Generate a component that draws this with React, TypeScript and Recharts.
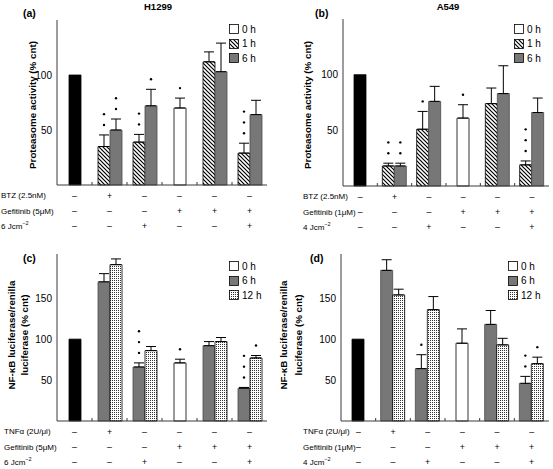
import React from 'react';
import { BarChart, Bar, XAxis, YAxis, ErrorBar, Cell, Legend, LabelList } from 'recharts';

const categories = ['g1', 'g2', 'g3', 'g4', 'g5', 'g6'];

// (a) H1299 proteasome activity
const aSingle = [100, null, null, 70, null, null];
const aSingleErr = [null, null, null, 9, null, null];
const aSingleStars = [0, 0, 0, 1, 0, 0];
const a1h = [null, 35, 39, null, 112, 29];
const a1hErr = [null, 10.5, 7, null, 9, 9];
const a1hStars = [0, 2, 2, 0, 0, 3];
const a6h = [null, 50, 72, null, 103, 64];
const a6hErr = [null, 10, 15, null, 26, 13];
const a6hStars = [0, 2, 1, 0, 0, 0];

// (b) A549 proteasome activity
const bSingle = [100, null, null, 61, null, null];
const bSingleErr = [null, null, null, 12, null, null];
const bSingleStars = [0, 0, 0, 1, 0, 0];
const b1h = [null, 18, 51, null, 74, 19];
const b1hErr = [null, 2.5, 16, null, 14, 3.5];
const b1hStars = [0, 2, 1, 0, 0, 3];
const b6h = [null, 18, 76, null, 83, 66];
const b6hErr = [null, 2.5, 13.5, null, 25, 13];
const b6hStars = [0, 2, 0, 0, 0, 0];

// (c) H1299 NF-kB luciferase
const cSingle = [100, null, null, 71, null, null];
const cSingleErr = [null, null, null, 4.5, null, null];
const cSingleStars = [0, 0, 0, 1, 0, 0];
const c6h = [null, 170, 66, null, 92, 40];
const c6hErr = [null, 10, 5, null, 5, 1];
const c6hStars = [0, 0, 3, 0, 0, 3];
const c12h = [null, 191, 86, null, 97, 77];
const c12hErr = [null, 7, 5, null, 5, 3];
const c12hStars = [0, 0, 0, 0, 0, 1];

// (d) A549 NF-kB luciferase
const dSingle = [100, null, null, 95, null, null];
const dSingleErr = [null, null, null, 17.5, null, null];
const dSingleStars = [0, 0, 0, 0, 0, 0];
const d6h = [null, 184, 64, null, 118, 46];
const d6hErr = [null, 13, 17, null, 17, 8.5];
const d6hStars = [0, 0, 1, 0, 0, 2];
const d12h = [null, 154, 136, null, 93, 70];
const d12hErr = [null, 7, 16, null, 8, 8];
const d12hStars = [0, 0, 0, 0, 0, 1];

// treatment rows under the axes
const btzRow = ['–', '+', '–', '–', '–', '–'];
const tnfRow = ['–', '+', '–', '–', '–', '–'];
const gefRow = ['–', '–', '–', '+', '+', '+'];
const lightRow = ['–', '–', '+', '–', '–', '+'];

const ticksLow = [50, 100];
const ticksHigh = [50, 100, 150];

const GRAY = '#777';
const HATCH = 'url(#hatch)';
const DOTS = 'url(#dots)';
const FRAME = '#3a3a3a';
const ROW_Y = [10.5, 26, 41];
const X_AXIS_H = 48;

type Num = number | null;
type RowLabel = { text: string; sup?: string };

type PanelProps = {
  left: number;
  top: number;
  width: number;
  height: number;
  margin: { top: number; right: number; bottom: number; left: number };
  yAxisWidth: number;
  domain: [number, number];
  ticks: number[];
  single: Num[];
  singleErr: Num[];
  singleStars: number[];
  s1: Num[];
  s1Err: Num[];
  s1Stars: number[];
  s1Fill: string;
  s2: Num[];
  s2Err: Num[];
  s2Stars: number[];
  s2Fill: string;
  legendItems: { label: string; fill: string }[];
  legendPos: { left: number; top: number };
  rows: string[][];
  rowLabels: RowLabel[];
  rowLabelX: number;
  yLabel: string[];
  yLabelX: number[];
  yLabelY: number;
};

const errPair = (e: Num) => (e == null ? null : [0, e]);
const mark = (v: Num, stars: number, e: Num) => (v == null ? null : `${stars}:${e ?? 0}`);

// significance dots stacked above the error bar
const starLabel = (ppu: number) => (props: any) => {
  const vb = props.viewBox || props;
  const value = props.value;
  if (value == null) return null;
  const [starsStr, errStr] = String(value).split(':');
  const stars = Number(starsStr);
  if (!stars) return null;
  const { x, y, width } = vb;
  const top = y - Number(errStr) * ppu;
  return (
    <g>
      {Array.from({ length: stars }, (_, k) => (
        <circle key={k} cx={x + width / 2} cy={top - 10 - k * 10.8} r={1.2} fill="#000" />
      ))}
    </g>
  );
};

const YLabel = ({ lines, xs, cy }: { lines: string[]; xs: number[]; cy: number }) => (
  <g>
    {lines.map((l, i) => (
      <text
        key={l}
        transform={`translate(${xs[i]},${cy}) rotate(-90)`}
        textAnchor="middle"
        dominantBaseline="central"
        fontWeight="bold"
        fontSize={9.8}
        fill="#000"
      >
        {l}
      </text>
    ))}
  </g>
);

const LegendBox = ({ items }: { items: { label: string; fill: string }[] }) => (
  <div style={{ fontSize: 10, color: '#000' }}>
    {items.map((it) => (
      <div key={it.label} style={{ display: 'flex', alignItems: 'center', height: 14.5 }}>
        <svg width={10} height={10} style={{ marginRight: 3 }}>
          <rect x={0.5} y={0.5} width={9} height={9} fill={it.fill} stroke="#000" strokeWidth={0.8} />
        </svg>
        <span>{it.label}</span>
      </div>
    ))}
  </div>
);

const Panel = (p: PanelProps) => {
  const data = categories.map((cat, i) => ({
    cat,
    single: p.single[i],
    singleErr: errPair(p.singleErr[i]),
    singleMark: mark(p.single[i], p.singleStars[i], p.singleErr[i]),
    s1: p.s1[i],
    s1Err: errPair(p.s1Err[i]),
    s1Mark: mark(p.s1[i], p.s1Stars[i], p.s1Err[i]),
    s2: p.s2[i],
    s2Err: errPair(p.s2Err[i]),
    s2Mark: mark(p.s2[i], p.s2Stars[i], p.s2Err[i]),
  }));
  const band = (p.width - p.margin.right - p.margin.left - p.yAxisWidth) / categories.length;
  const plotH = p.height - p.margin.top - p.margin.bottom - X_AXIS_H;
  const ppu = plotH / (p.domain[1] - p.domain[0]);
  const stars = starLabel(ppu);

  const renderTick = (props: any) => {
    const { x, y, index } = props;
    return (
      <g>
        {p.rows.map((r, ri) => (
          <text key={ri} x={x} y={y + ROW_Y[ri]} textAnchor="middle" dominantBaseline="central" fontSize={8.8} fill="#000">
            {r[index]}
          </text>
        ))}
        {index === 0 &&
          p.rowLabels.map((rl, ri) => (
            <text key={'l' + ri} x={p.rowLabelX} y={y + ROW_Y[ri]} dominantBaseline="central" fontSize={8} fill="#000">
              {rl.text}
              {rl.sup && (
                <tspan dy={-3} fontSize={5.5}>
                  {rl.sup}
                </tspan>
              )}
            </text>
          ))}
        {index < categories.length - 1 && (
          <line x1={x + band / 2} x2={x + band / 2} y1={y} y2={y - 3} stroke={FRAME} strokeWidth={1} />
        )}
      </g>
    );
  };

  return (
    <div style={{ position: 'absolute', left: p.left, top: p.top }}>
      <BarChart width={p.width} height={p.height} data={data} margin={p.margin} barGap={0} barSize={12}>
        <XAxis
          xAxisId="main"
          dataKey="cat"
          height={X_AXIS_H}
          interval={0}
          tickLine={false}
          tickSize={0}
          tickMargin={0}
          axisLine={{ stroke: FRAME }}
          tick={renderTick}
        />
        <XAxis
          xAxisId="single"
          dataKey="cat"
          orientation="top"
          height={0}
          tick={false}
          tickLine={false}
          axisLine={{ stroke: FRAME }}
        />
        <YAxis
          yAxisId="v"
          width={p.yAxisWidth}
          domain={p.domain}
          ticks={p.ticks}
          tickLine={false}
          tickSize={3}
          tickMargin={2}
          axisLine={{ stroke: FRAME }}
          tick={{ fontSize: 10, fill: '#000' }}
          label={<YLabel lines={p.yLabel} xs={p.yLabelX} cy={p.yLabelY} />}
        />
        <YAxis
          yAxisId="frame"
          orientation="right"
          width={0}
          domain={[0, 1]}
          tick={false}
          tickLine={false}
          axisLine={{ stroke: FRAME }}
        />
        <Legend
          layout="vertical"
          align="center"
          verticalAlign="middle"
          wrapperStyle={{ left: p.legendPos.left, top: p.legendPos.top, width: 'auto', height: 'auto' }}
          content={() => <LegendBox items={p.legendItems} />}
        />
        <Bar xAxisId="single" yAxisId="v" dataKey="single" stroke="#000" strokeWidth={0.8} isAnimationActive={false}>
          {categories.map((c, i) => (
            <Cell key={c} fill={i === 0 ? '#000' : '#fff'} />
          ))}
          <ErrorBar dataKey="singleErr" direction="y" width={5} stroke="#000" strokeWidth={1} />
          <LabelList dataKey="singleMark" content={stars} />
        </Bar>
        <Bar
          xAxisId="main"
          yAxisId="v"
          dataKey="s1"
          fill={p.s1Fill}
          stroke={p.s1Fill === GRAY ? '#4a4a4a' : '#000'}
          strokeWidth={0.8}
          isAnimationActive={false}
        >
          <ErrorBar dataKey="s1Err" direction="y" width={5} stroke="#000" strokeWidth={1} />
          <LabelList dataKey="s1Mark" content={stars} />
        </Bar>
        <Bar
          xAxisId="main"
          yAxisId="v"
          dataKey="s2"
          fill={p.s2Fill}
          stroke={p.s2Fill === GRAY ? '#4a4a4a' : '#000'}
          strokeWidth={0.8}
          isAnimationActive={false}
        >
          <ErrorBar dataKey="s2Err" direction="y" width={5} stroke="#000" strokeWidth={1} />
          <LabelList dataKey="s2Mark" content={stars} />
        </Bar>
      </BarChart>
    </div>
  );
};

const legendAB = [
  { label: '0 h', fill: '#fff' },
  { label: '1 h', fill: HATCH },
  { label: '6 h', fill: GRAY },
];
const legendCD = [
  { label: '0 h', fill: '#fff' },
  { label: '6 h', fill: GRAY },
  { label: '12 h', fill: DOTS },
];

export default function App() {
  return (
    <div
      style={{
        position: 'absolute',
        left: 0,
        top: 0,
        width: 553,
        height: 469,
        background: '#fff',
        fontFamily: '"Liberation Sans", Arial, sans-serif',
      }}
    >
      <svg width={0} height={0} style={{ position: 'absolute' }}>
        <defs>
          <pattern id="hatch" patternUnits="userSpaceOnUse" width={4} height={4}>
            <rect width={4} height={4} fill="#fff" />
            <path d="M-1,-1 L5,5 M-1,3 L1,5 M3,-1 L5,1" stroke="#000" strokeWidth={1.2} />
          </pattern>
          <pattern id="dots" patternUnits="userSpaceOnUse" width={2} height={2}>
            <rect width={2} height={2} fill="#fff" />
            <rect width={1} height={1} fill="#333" />
          </pattern>
        </defs>
      </svg>

      <Panel
        left={0}
        top={0}
        width={276}
        height={234}
        margin={{ top: 20, right: 9, bottom: 1, left: 0 }}
        yAxisWidth={57}
        domain={[0, 150]}
        ticks={ticksLow}
        single={aSingle}
        singleErr={aSingleErr}
        singleStars={aSingleStars}
        s1={a1h}
        s1Err={a1hErr}
        s1Stars={a1hStars}
        s1Fill={HATCH}
        s2={a6h}
        s2Err={a6hErr}
        s2Stars={a6hStars}
        s2Fill={GRAY}
        legendItems={legendAB}
        legendPos={{ left: 229, top: 22 }}
        rows={[btzRow, gefRow, lightRow]}
        rowLabels={[{ text: 'BTZ (2.5nM)' }, { text: 'Gefitinib (5μM)' }, { text: '6 Jcm', sup: '−2' }]}
        rowLabelX={1}
        yLabel={['Proteasome activity (% cnt)']}
        yLabelX={[32]}
        yLabelY={105}
      />
      <Panel
        left={276}
        top={0}
        width={277}
        height={234}
        margin={{ top: 19, right: 4, bottom: 0, left: 0 }}
        yAxisWidth={67}
        domain={[0, 150]}
        ticks={ticksLow}
        single={bSingle}
        singleErr={bSingleErr}
        singleStars={bSingleStars}
        s1={b1h}
        s1Err={b1hErr}
        s1Stars={b1hStars}
        s1Fill={HATCH}
        s2={b6h}
        s2Err={b6hErr}
        s2Stars={b6hStars}
        s2Fill={GRAY}
        legendItems={legendAB}
        legendPos={{ left: 238, top: 22 }}
        rows={[btzRow, gefRow, lightRow]}
        rowLabels={[{ text: 'BTZ (2.5nM)' }, { text: 'Gefitinib (1μM)' }, { text: '4 Jcm', sup: '−2' }]}
        rowLabelX={27}
        yLabel={['Proteasome activity (% cnt)']}
        yLabelX={[31]}
        yLabelY={105}
      />
      <Panel
        left={0}
        top={230}
        width={276}
        height={239}
        margin={{ top: 24, right: 9, bottom: 0, left: 0 }}
        yAxisWidth={57}
        domain={[0, 204]}
        ticks={ticksHigh}
        single={cSingle}
        singleErr={cSingleErr}
        singleStars={cSingleStars}
        s1={c6h}
        s1Err={c6hErr}
        s1Stars={c6hStars}
        s1Fill={GRAY}
        s2={c12h}
        s2Err={c12hErr}
        s2Stars={c12hStars}
        s2Fill={DOTS}
        legendItems={legendCD}
        legendPos={{ left: 229, top: 29 }}
        rows={[tnfRow, gefRow, lightRow]}
        rowLabels={[{ text: 'TNFα (2U/μl)' }, { text: 'Gefitinib (5μM)' }, { text: '6 Jcm', sup: '−2' }]}
        rowLabelX={4}
        yLabel={['NF-κB luciferase/renilla', 'luciferase (% cnt)']}
        yLabelX={[11, 24]}
        yLabelY={105}
      />
      <Panel
        left={276}
        top={230}
        width={277}
        height={239}
        margin={{ top: 24, right: 4, bottom: 0, left: 0 }}
        yAxisWidth={65}
        domain={[0, 204]}
        ticks={ticksHigh}
        single={dSingle}
        singleErr={dSingleErr}
        singleStars={dSingleStars}
        s1={d6h}
        s1Err={d6hErr}
        s1Stars={d6hStars}
        s1Fill={GRAY}
        s2={d12h}
        s2Err={d12hErr}
        s2Stars={d12hStars}
        s2Fill={DOTS}
        legendItems={legendCD}
        legendPos={{ left: 232, top: 29 }}
        rows={[tnfRow, gefRow, lightRow]}
        rowLabels={[{ text: 'TNFα (2U/μl)' }, { text: 'Gefitinib (1μM)' }, { text: '4 Jcm', sup: '−2' }]}
        rowLabelX={27}
        yLabel={['NF-κB luciferase/renilla', 'luciferase (% cnt)']}
        yLabelX={[7, 22]}
        yLabelY={105}
      />

      <svg width={553} height={469} style={{ position: 'absolute', left: 0, top: 0, pointerEvents: 'none' }}>
        <g fontWeight="bold" fill="#000">
          <text x={23} y={17} fontSize={10.5}>(a)</text>
          <text x={158} y={10} fontSize={9.5} textAnchor="middle">H1299</text>
          <text x={315} y={17} fontSize={10.5}>(b)</text>
          <text x={448} y={10} fontSize={9.5} textAnchor="middle">A549</text>
          <text x={23} y={262} fontSize={10.5}>(c)</text>
          <text x={310} y={262} fontSize={10.5}>(d)</text>
        </g>
      </svg>
    </div>
  );
}
